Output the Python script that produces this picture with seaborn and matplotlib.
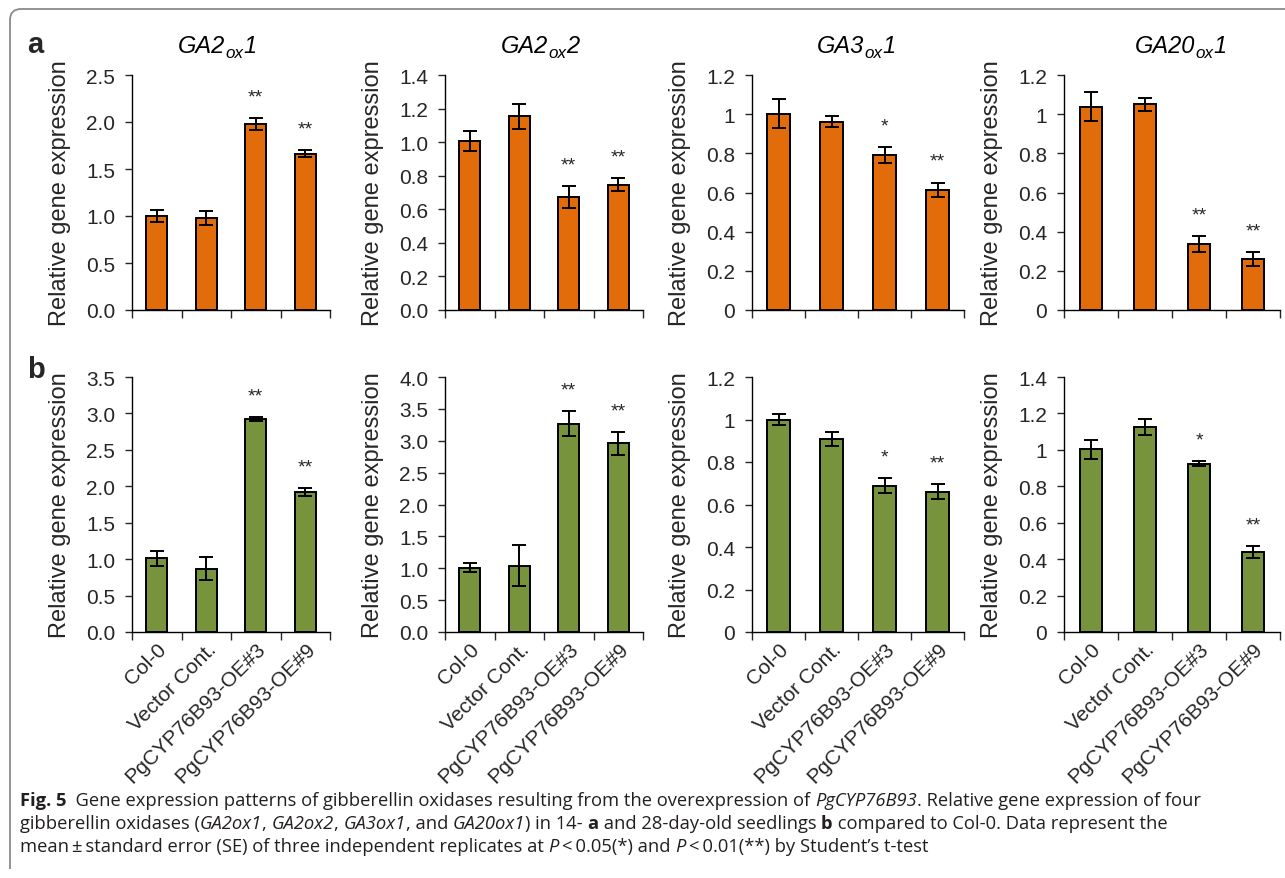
import numpy as np
import pandas as pd
import matplotlib
matplotlib.use('Agg')
import matplotlib.pyplot as plt
import seaborn as sns
from matplotlib.path import Path
from matplotlib.patches import PathPatch
from matplotlib.ticker import FixedLocator, FuncFormatter
from matplotlib.font_manager import FontProperties

sns.set_style('ticks')
plt.rcParams['font.family'] = ['Liberation Sans', 'DejaVu Sans']

# %%
# Data
groups = ['Col-0', 'Vector Cont.', 'PgCYP76B93-OE#3', 'PgCYP76B93-OE#9']
gene_titles = [('GA2', 'ox', '1'), ('GA2', 'ox', '2'), ('GA3', 'ox', '1'), ('GA20', 'ox', '1')]

# 14-day-old seedlings (a)
ga2ox1_14 = [1.00, 0.98, 1.975, 1.663]
ga2ox1_14_se = [0.065, 0.075, 0.065, 0.035]
ga2ox2_14 = [1.008, 1.155, 0.675, 0.747]
ga2ox2_14_se = [0.06, 0.075, 0.065, 0.04]
ga3ox1_14 = [1.003, 0.962, 0.79, 0.613]
ga3ox1_14_se = [0.072, 0.03, 0.04, 0.038]
ga20ox1_14 = [1.038, 1.05, 0.336, 0.26]
ga20ox1_14_se = [0.073, 0.032, 0.04, 0.037]
sig_14 = [['', '', '**', '**'], ['', '', '**', '**'], ['', '', '*', '**'], ['', '', '**', '**']]

# 28-day-old seedlings (b)
ga2ox1_28 = [1.01, 0.87, 2.922, 1.925]
ga2ox1_28_se = [0.105, 0.155, 0.025, 0.055]
ga2ox2_28 = [1.009, 1.04, 3.27, 2.96]
ga2ox2_28_se = [0.074, 0.32, 0.195, 0.18]
ga3ox1_28 = [1.0, 0.908, 0.689, 0.66]
ga3ox1_28_se = [0.027, 0.035, 0.035, 0.035]
ga20ox1_28 = [1.004, 1.127, 0.925, 0.439]
ga20ox1_28_se = [0.052, 0.043, 0.013, 0.033]
sig_28 = [['', '', '**', '**'], ['', '', '**', '**'], ['', '', '*', '**'], ['', '', '*', '**']]

ymax_14 = [2.5, 1.4, 1.2, 1.2]
ystep_14 = [0.5, 0.2, 0.2, 0.2]
ydec_14 = [True, True, False, False]
ymax_28 = [3.5, 4.0, 1.2, 1.4]
ystep_28 = [0.5, 0.5, 0.2, 0.2]
ydec_28 = [True, True, False, False]

means_14 = [ga2ox1_14, ga2ox2_14, ga3ox1_14, ga20ox1_14]
ses_14 = [ga2ox1_14_se, ga2ox2_14_se, ga3ox1_14_se, ga20ox1_14_se]
means_28 = [ga2ox1_28, ga2ox2_28, ga3ox1_28, ga20ox1_28]
ses_28 = [ga2ox1_28_se, ga2ox2_28_se, ga3ox1_28_se, ga20ox1_28_se]

orange = '#E36C0A'
green = '#77933C'

# %%
W, H = 1285, 879
fig = plt.figure(figsize=(W / 100, H / 100), dpi=100)
fig.patch.set_facecolor('white')
renderer = fig.canvas.get_renderer()

lefts = [132, 445, 752, 1064]
rights = [330, 643, 964, 1280]
rows = [(76, 311), (378, 633)]
title_centers = [217, 540, 856, 1181]


def seg_width(s, prop):
    # width incl. spaces: measure with a sentinel glyph
    w1 = renderer.get_text_width_height_descent(s + '|', prop, ismath=False)[0]
    w0 = renderer.get_text_width_height_descent('|', prop, ismath=False)[0]
    return w1 - w0


def rich_text(x_px, y_px, parts, size, family, color='black', center=False):
    props = []
    for s, style in parts:
        sz = size * 0.72 if 's' in style else size
        p = FontProperties(family=family, size=sz,
                           style='italic' if 'i' in style else 'normal',
                           weight='bold' if 'b' in style else 'normal')
        props.append(p)
    widths = [seg_width(s, p) for (s, _), p in zip(parts, props)]
    x = x_px - sum(widths) / 2 if center else x_px
    for (s, style), p, w in zip(parts, props, widths):
        dy = size * 1.389 * 0.22 if 's' in style else 0
        fig.text(x / W, 1 - (y_px + dy) / H, s, fontproperties=p, color=color, va='baseline')
        x += w


def draw_panel(ax, means, ses, sig, ymax, ystep, dec, color, show_labels):
    df = pd.DataFrame({'group': groups, 'value': means})
    sns.barplot(data=df, x='group', y='value', color=color, width=0.42,
                edgecolor='black', linewidth=1.4, saturation=1, ax=ax, errorbar=None)
    ax.errorbar(np.arange(len(groups)), means, yerr=ses, fmt='none', ecolor='black',
                elinewidth=1.4, capsize=5, capthick=1.4)
    for i, s in enumerate(sig):
        if s:
            ax.annotate(s, (i, means[i] + ses[i]), xytext=(0, 12), textcoords='offset points',
                        ha='center', va='baseline', fontsize=14)
    ax.set_xlim(-0.5, len(groups) - 0.5)
    ax.set_ylim(0, ymax)
    yt = np.round(np.arange(0, ymax + 1e-9, ystep), 2)
    ax.set_yticks(yt)
    if dec:
        ax.yaxis.set_major_formatter(FuncFormatter(lambda v, p: f'{v:.1f}'))
    else:
        ax.yaxis.set_major_formatter(FuncFormatter(lambda v, p: f'{v:g}'))
    ax.set_xticks(range(len(groups)))
    ax.xaxis.set_minor_locator(FixedLocator(np.arange(-0.5, len(groups), 1.0)))
    ax.tick_params(axis='x', which='major', length=0, pad=5)
    ax.tick_params(axis='x', which='minor', length=6, width=1.0, direction='out')
    ax.tick_params(axis='y', length=5, width=1.0, direction='out', labelsize=15, pad=7)
    if show_labels:
        ax.set_xticklabels(groups, rotation=45, ha='right', va='top',
                           rotation_mode='anchor', fontsize=15)
    else:
        ax.set_xticklabels([])
    ax.set_xlabel('')
    ax.set_ylabel('Relative gene expression', fontsize=17, labelpad=11)
    for sp in ['top', 'right']:
        ax.spines[sp].set_visible(False)
    for sp in ['left', 'bottom']:
        ax.spines[sp].set_linewidth(1.0)
        ax.spines[sp].set_color('black')


for r, (top, bot) in enumerate(rows):
    for c in range(4):
        ax = fig.add_axes([lefts[c] / W, 1 - bot / H, (rights[c] - lefts[c]) / W, (bot - top) / H])
        if r == 0:
            draw_panel(ax, means_14[c], ses_14[c], sig_14[c], ymax_14[c], ystep_14[c], ydec_14[c],
                       orange, False)
        else:
            draw_panel(ax, means_28[c], ses_28[c], sig_28[c], ymax_28[c], ystep_28[c], ydec_28[c],
                       green, True)

# gene titles (italic with subscript)
for c, (a, sub, b) in enumerate(gene_titles):
    rich_text(title_centers[c], 53, [(a, 'i'), (sub, 'is'), (b, 'i')], 17,
              ['Liberation Sans'], center=True)

# panel letters
fig.text(27 / W, 1 - 53 / H, 'a', fontsize=21, fontweight='bold', va='baseline')
fig.text(27 / W, 1 - 378 / H, 'b', fontsize=21, fontweight='bold', va='baseline')

# rounded frame
x0, yt0, yb0 = 10 / W, 1 - 10 / H, 1 - 870 / H
rx, ry = 11 / W, 11 / H
frame = Path([(x0, yb0), (x0, yt0 - ry), (x0, yt0), (x0 + rx, yt0), (1.01, yt0)],
             [Path.MOVETO, Path.LINETO, Path.CURVE3, Path.CURVE3, Path.LINETO])
fig.patches.append(PathPatch(frame, transform=fig.transFigure, fill=False,
                             edgecolor='#8a8a8a', linewidth=1.3))

# caption
cap_font = ['Open Sans']
cap_size = 13.2
cap_color = '#231F20'
rich_text(20, 806, [('Fig. 5', 'b'),
                    ('  Gene expression patterns of gibberellin oxidases resulting from the '
                     'overexpression of ', ''), ('PgCYP76B93', 'i'),
                    ('. Relative gene expression of four', '')],
          cap_size, cap_font, cap_color)
rich_text(20, 829, [('gibberellin oxidases (', ''), ('GA2ox1', 'i'), (', ', ''), ('GA2ox2', 'i'),
                    (', ', ''), ('GA3ox1', 'i'), (', and ', ''), ('GA20ox1', 'i'), (') in 14- ', ''),
                    ('a', 'b'), (' and 28-day-old seedlings ', ''), ('b', 'b'),
                    (' compared to Col-0. Data represent the', '')],
          cap_size, cap_font, cap_color)
rich_text(20, 852, [('mean\u2009±\u2009standard error (SE) of three independent replicates at ', ''),
                    ('P', 'i'), ('\u2009<\u20090.05(*) and ', ''), ('P', 'i'),
                    ('\u2009<\u20090.01(**) by Student’s t-test', '')],
          cap_size, cap_font, cap_color)

fig.savefig('out.png', dpi=100, facecolor='white')
